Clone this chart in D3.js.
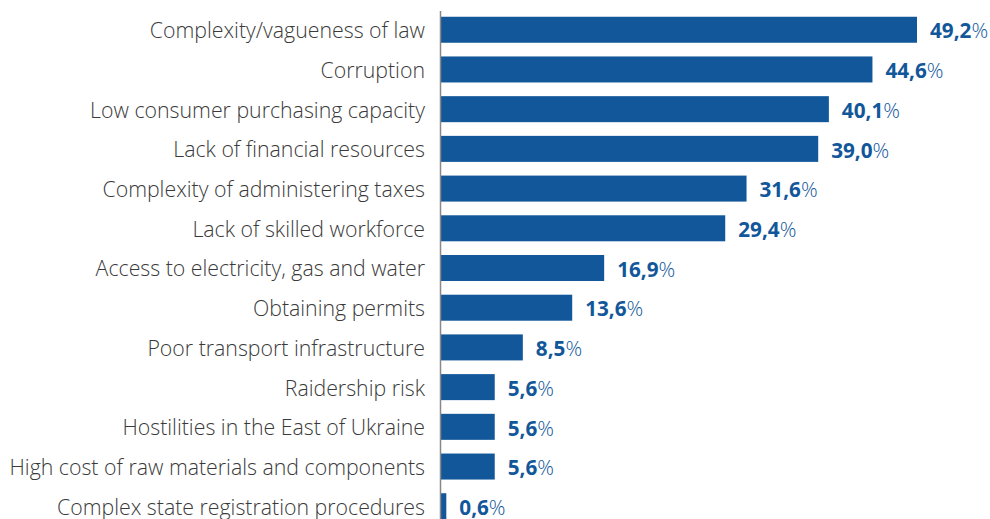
<!DOCTYPE html>
<html>
<head>
<meta charset="utf-8">
<style>
body { margin: 0; background: #fff; }
.label { font-family: "Open Sans", sans-serif; font-weight: 300; font-size: 21.3px; fill: #3a3a3a; }
.val { font-family: "Open Sans", sans-serif; font-size: 20.7px; fill: #12579a; }
.val .num { font-weight: 700; }
.val .pct { font-weight: 300; }
</style>
</head>
<body>
<script src="https://cdnjs.cloudflare.com/ajax/libs/d3/7.8.5/d3.min.js"></script>
<script>
// categories and shares (%)
var categories = [
  "Complexity/vagueness of law",
  "Corruption",
  "Low consumer purchasing capacity",
  "Lack of financial resources",
  "Complexity of administering taxes",
  "Lack of skilled workforce",
  "Access to electricity, gas and water",
  "Obtaining permits",
  "Poor transport infrastructure",
  "Raidership risk",
  "Hostilities in the East of Ukraine",
  "High cost of raw materials and components",
  "Complex state registration procedures"
];
var values = [49.2, 44.6, 40.1, 39.0, 31.6, 29.4, 16.9, 13.6, 8.5, 5.6, 5.6, 5.6, 0.6];

var width = 990, height = 519;
var x0 = 440.5;

var svg = d3.select("body").append("svg")
    .attr("width", width)
    .attr("height", height);

var x = d3.scaleLinear().domain([0, 49.2]).range([x0, 917]);
var y = d3.scaleBand().domain(categories).range([10, 526]).paddingInner(0.345).paddingOuter(0.17);

// bars
svg.selectAll("rect.bar")
    .data(categories)
  .enter().append("rect")
    .attr("class", "bar")
    .attr("x", x(0))
    .attr("y", function(d) { return y(d); })
    .attr("width", function(d, i) { return x(values[i]) - x(0); })
    .attr("height", y.bandwidth())
    .attr("fill", "#12579a");

// axis line on the left of the bars
svg.append("line")
    .attr("x1", x0).attr("x2", x0)
    .attr("y1", 11).attr("y2", height)
    .attr("stroke", "#888")
    .attr("stroke-width", 1.5);

// category labels
svg.selectAll("text.label")
    .data(categories)
  .enter().append("text")
    .attr("class", "label")
    .attr("x", 425)
    .attr("y", function(d) { return y(d) + y.bandwidth() / 2 + 1; })
    .attr("dy", "0.35em")
    .attr("text-anchor", "end")
    .text(function(d) { return d; });

// value labels
var vals = svg.selectAll("text.val")
    .data(categories)
  .enter().append("text")
    .attr("class", "val")
    .attr("x", function(d, i) { return x(values[i]) + 13; })
    .attr("y", function(d) { return y(d) + y.bandwidth() / 2 + 1.5; })
    .attr("dy", "0.35em");
vals.append("tspan").attr("class", "num")
    .text(function(d, i) { return values[i].toFixed(1).replace(".", ","); });
vals.append("tspan").attr("class", "pct").text("%");
</script>
</body>
</html>
